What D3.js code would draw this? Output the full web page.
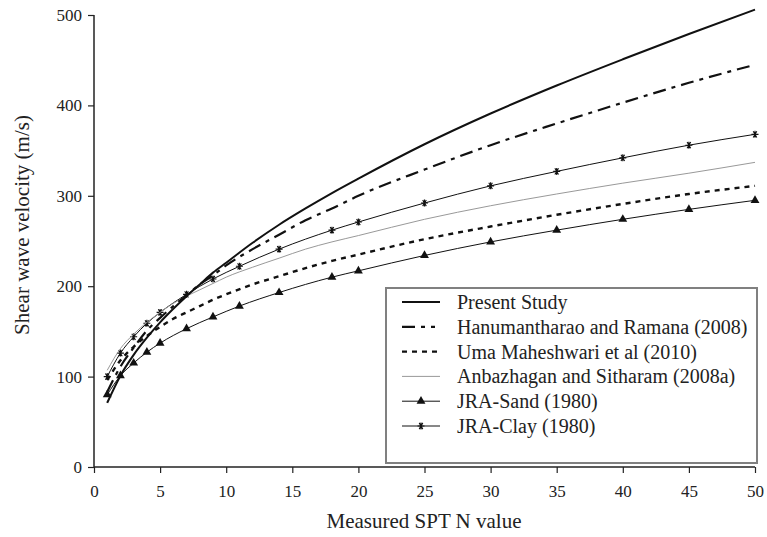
<!DOCTYPE html>
<html><head><meta charset="utf-8">
<script src="https://cdn.jsdelivr.net/npm/d3@7"></script>
<style>
html,body{margin:0;padding:0;background:#fff;}
svg text{font-family:"Liberation Serif","Times New Roman",Times,Tinos,"DejaVu Serif","Noto Serif",serif !important;fill:#222;}
</style></head>
<body>
<script>
// ---- data ----
const nFine = [1,2,3,4,5,6,7,8,9,10,12,14,16,18,20,25,30,35,40,45,50];
const presentStudy   = [71,101,124,143,160,175,189,202,215,226,248,268,286,303,319,357,391,422,451,479,506];
const hanumantharao  = [83,111,132,151,165,178,190,202,212,223,241,257,273,286,300,329,356,380,403,425,445];
const umaMaheshwari  = [96,118,133,145,155,164,171,178,185,191,202,211,220,228,235,252,266,279,291,302,311];
const anbazhagan     = [107,131,147,160,171,181,189,196,203,210,221,231,241,249,256,274,289,302,314,325,337];
const nJRA = [1,2,3,4,5,7,9,11,14,18,20,25,30,35,40,45,50];
const jraSand = [80,101,115,127,137,153,166,178,193,210,217,234,249,262,274,285,295];
const jraClay = [100,126,144,159,171,191,208,222,241,262,271,292,311,327,342,356,368];
const xTicks = [0,5,10,15,20,25,30,35,40,45,50];
const yTicks = [0,100,200,300,400,500];
const legendLabels = ["Present Study","Hanumantharao and Ramana (2008)","Uma Maheshwari et al (2010)","Anbazhagan and Sitharam (2008a)","JRA-Sand (1980)","JRA-Clay (1980)"];

const FONT = '"Liberation Serif","Times New Roman",Times,Tinos,"DejaVu Serif","Noto Serif",serif';
const W = 767, H = 537;
const svg = d3.select("body").append("svg").attr("width", W).attr("height", H)
  .attr("font-family", FONT);
const x = d3.scaleLinear().domain([0,50]).range([94,755]);
const y = d3.scaleLinear().domain([0,500]).range([467,15]);

const series = [
  {xs:nFine, ys:presentStudy, color:"#111", w:2, dash:null, marker:null},
  {xs:nFine, ys:hanumantharao, color:"#111", w:2.2, dash:"13,6,4,6", marker:null},
  {xs:nFine, ys:umaMaheshwari, color:"#111", w:2.4, dash:"5,5", marker:null},
  {xs:nFine, ys:anbazhagan, color:"#999", w:1, dash:null, marker:null},
  {xs:nJRA, ys:jraSand, color:"#111", w:1, dash:null, marker:"tri"},
  {xs:nJRA, ys:jraClay, color:"#111", w:1, dash:null, marker:"star"}
];

const line = d3.line().x(d=>x(d[0])).y(d=>y(d[1])).curve(d3.curveMonotoneX);

// axes
const gx = svg.append("g").attr("transform","translate(0,467)")
  .call(d3.axisBottom(x).tickValues(xTicks).tickSize(6).tickPadding(12).tickFormat(d3.format("d")));
const gy = svg.append("g").attr("transform","translate(94,0)")
  .call(d3.axisLeft(y).tickValues(yTicks).tickSize(6).tickPadding(6).tickFormat(d3.format("d")));
[gx,gy].forEach(g=>{
  g.attr("font-family", FONT).attr("font-size", 17);
  g.select(".domain").attr("stroke","#222").attr("stroke-width",1.5);
  g.selectAll(".tick line").attr("stroke","#222").attr("stroke-width",1.2);
  g.selectAll(".tick text").attr("fill","#222");
});
gx.select(".domain").attr("d","M94,0H755");
gy.select(".domain").attr("d","M0,467V15");

svg.append("text").attr("x",424).attr("y",528).attr("text-anchor","middle")
  .attr("font-size",21).text("Measured SPT N value");
svg.append("text").attr("transform","translate(29,225) rotate(-90)").attr("text-anchor","middle")
  .attr("font-size",21).text("Shear wave velocity (m/s)");

const triPath = d3.symbol().type(d3.symbolTriangle).size(34)();
const starPath = "M-3.5,0H3.5M-1.8,-3.1L1.8,3.1M-1.8,3.1L1.8,-3.1M0,-3.5V3.5";

function drawMarker(g, type, cx, cy){
  if(type==="tri"){
    g.append("path").attr("d",triPath).attr("transform",`translate(${cx},${cy})`).attr("fill","#111");
  } else if(type==="star"){
    g.append("path").attr("d",starPath).attr("transform",`translate(${cx},${cy})`)
      .attr("stroke","#111").attr("stroke-width",1.1).attr("fill","none");
  }
}

const plot = svg.append("g");
series.slice().reverse().forEach(s=>{
  const pts = s.xs.map((v,i)=>[v,s.ys[i]]);
  plot.append("path").datum(pts).attr("d",line).attr("fill","none")
    .attr("stroke",s.color).attr("stroke-width",s.w)
    .attr("stroke-dasharray",s.dash);
  if(s.marker){
    const mg = plot.append("g");
    pts.forEach(p=>drawMarker(mg, s.marker, x(p[0]), y(p[1])));
  }
});

// legend
const lg = svg.append("g");
lg.append("rect").attr("x",386).attr("y",288).attr("width",371).attr("height",175)
  .attr("fill","#fff").attr("stroke","#808080").attr("stroke-width",2);
legendLabels.forEach((lab,i)=>{
  const s = series[i];
  const by = 309 + i*24.8;
  const ly = by - 7;
  lg.append("line").attr("x1",402).attr("x2",440).attr("y1",ly).attr("y2",ly)
    .attr("stroke",s.color).attr("stroke-width",s.w)
    .attr("stroke-dasharray", i===1 ? "13,6,4,6,4,6" : s.dash);
  if(s.marker) drawMarker(lg, s.marker, 421, ly);
  lg.append("text").attr("x",457).attr("y",by).attr("font-size",20).text(lab);
});
</script>
</body></html>
